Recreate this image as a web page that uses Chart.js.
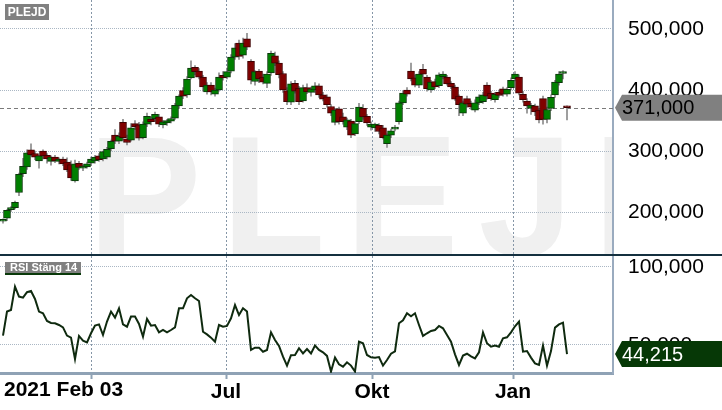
<!DOCTYPE html>
<html>
<head>
<meta charset="utf-8">
<script src="https://cdn.jsdelivr.net/npm/chart.js@4.4.1/dist/chart.umd.min.js"></script>
<style>
  html, body { margin: 0; padding: 0; background: #fff; }
  #wrap { position: relative; width: 722px; height: 410px; overflow: hidden; }
  #wrap canvas { position: absolute; left: 0; }
</style>
</head>
<body>
<div id="wrap">
  <canvas id="price" width="722" height="256" style="top:0"></canvas>
  <canvas id="rsi" width="722" height="154" style="top:256px"></canvas>
</div>
<script>
// daily candles, PLEJD, Feb 2021 - Feb 2022 (price)
const opens = [185,190,204,207,232,263,274,302,296,284, 300,293,283,290,283,287,282,278,251,280,
  272,274,280,284,292,287,290,304,326,316, 347,320,318,345,343,322,344,352,353,356,
  343,346,349,354,374,399,392,420,437,431, 421,397,408,393,400,424,421,431,454,477,
  457,484,447,414,431,421,411,428,456,444, 427,399,380,411,403,382,404,396,400,407,
  392,389,373,347,369,356,339,349,328,348, 370,357,339,338,342,338,312,326,336,348,
  379,400,431,420,408,434,421,400,414,407, 422,421,411,405,390,362,386,378,367,379,
  381,408,395,384,396,402,393,404,418,421, 393,382,370,374,367,386,352,370,392,412,
  427,374];
const highs = [189,204,209,218,264,288,302,312,300,293, 302,296,292,293,289,290,289,284,285,283,
  277,282,290,293,296,300,306,318,335,330, 352,326,345,350,347,348,362,356,364,360,
  350,352,356,378,392,404,422,448,440,435, 424,412,412,403,428,430,436,458,476,482,
  485,493,450,432,434,426,430,464,462,448, 430,404,414,416,406,408,410,405,412,410,
  396,392,376,370,372,362,354,352,348,378, 376,360,348,346,345,342,328,336,342,382,
  398,404,444,425,430,442,424,416,418,428, 430,424,414,408,392,382,390,382,384,392,
  396,412,398,396,400,405,404,420,430,425, 398,386,378,377,370,390,372,392,416,430,
  432,374];
const lows = [182,186,201,205,227,258,270,292,286,272, 287,280,277,281,279,276,266,252,249,270,
  268,272,276,280,283,284,287,300,312,312, 318,310,316,335,318,320,340,343,348,340,
  338,342,346,352,370,386,388,418,425,418, 398,393,392,390,398,416,418,428,450,450,
  452,466,410,408,412,410,404,424,440,420, 396,376,376,395,376,380,394,390,396,388,
  382,372,358,343,344,344,335,322,325,345, 352,342,334,332,328,320,306,322,333,344,
  376,390,415,405,404,422,398,396,402,404, 418,408,402,383,358,358,372,368,364,376,
  378,385,383,380,388,390,390,400,415,392, 380,362,360,358,346,344,346,366,388,408,
  418,351];
const closes = [188,203,207,216,262,275,297,294,290,292, 292,287,290,284,287,279,269,256,279,273,
  275,279,287,290,286,299,303,316,316,324, 322,314,338,340,321,344,357,348,360,344,
  348,350,353,375,390,390,418,436,430,421, 405,408,397,400,421,420,430,454,469,455,
  477,470,416,430,418,413,426,460,444,425, 400,381,410,398,381,404,397,402,407,392,
  385,376,362,367,348,348,351,326,345,372, 356,346,344,344,332,322,326,333,339,379,
  395,393,418,408,426,426,402,413,405,425, 426,410,405,385,376,379,377,372,379,389,
  392,390,386,393,391,393,401,416,426,395, 384,374,375,364,351,352,368,388,413,426,
  428,371];
// RSI (Stäng 14)
const rsi = [56.0,71.4,72.4,87.4,81.0,80.3,83.8,84.6,79.5,71.4,
  70.3,65.4,64.1,63.9,62.8,61.3,56.0,54.7,41.0,55.8,
  52.8,51.7,57.5,62.4,63.2,56.4,65.0,71.4,67.5,73.5,
  63.2,61.7,68.2,68.2,63.5,55.3,66.7,62.4,62.8,58.1,
  59.6,58.1,59.6,61.3,73.5,73.5,79.9,82.0,79.9,78.2,
  58.5,56.8,54.7,52.1,62.8,61.7,62.2,67.1,75.6,69.2,
  73.5,71.4,46.8,48.3,48.3,45.7,46.8,58.1,53.2,49.4,
  42.5,36.8,43.5,43.6,47.9,44.6,47.4,44.6,49.6,46.8,
  45.3,43.0,33.0,42.0,37.6,36.1,38.9,36.8,33.0,52.1,
  51.1,43.6,42.1,41.9,42.3,36.8,40.4,44.4,45.9,63.9,
  65.8,70.3,68.4,70.3,62.8,55.8,57.5,59.0,59.6,62.2,
  60.7,56.4,52.1,44.0,37.2,43.2,44.4,42.7,41.4,45.3,
  58.1,51.1,48.9,49.6,48.9,54.3,54.9,58.1,62.0,65.0,
  45.7,46.1,41.9,38.2,37.2,49.6,36.8,46.1,61.1,63.2,
  64.3,44.215];

const priceTicks = [200, 300, 400, 500];
const rsiTicks = [50, 100];
const monthTicks = [22, 55.75, 92.25, 127.5];   // trading-day index of month starts
const monthLabels = ['', 'Jul', 'Okt', 'Jan'];
const startLabel = '2021 Feb 03';

const FONT = '"Liberation Sans", Arial, sans-serif';
const fmt = v => Number(v).toFixed(3).replace('.', ',');

const idx = closes.map((_, i) => i);
const up = idx.map(i => closes[i] >= opens[i]);
const wicks = idx.map(i => ({ x: i, y: [lows[i], highs[i]] }));
const bodies = idx.map(i => ({ x: i, y: [Math.min(opens[i], closes[i]), Math.max(opens[i], closes[i])] }));
const rsiPts = idx.map(i => ({ x: i, y: rsi[i] }));

function tag(ctx, x, y, w, h, fill) {
  ctx.beginPath();
  ctx.moveTo(x, y);
  ctx.lineTo(x + 7, y - h / 2);
  ctx.lineTo(x + w, y - h / 2);
  ctx.lineTo(x + w, y + h / 2);
  ctx.lineTo(x + 7, y + h / 2);
  ctx.closePath();
  ctx.fillStyle = fill;
  ctx.fill();
}

const noPadY = s => { s.width = 109; s.paddingTop = 0; s.paddingBottom = 0; };

const xBase = {
  type: 'linear', min: -0.75, max: 152.5, offset: false,
  afterBuildTicks: s => { s.ticks = monthTicks.map(v => ({ value: v })); }
};

const pricePlugin = {
  id: 'pricePlugin',
  beforeDraw(chart) {
    const { ctx, chartArea: a } = chart;
    ctx.save();
    ctx.beginPath();
    ctx.rect(a.left, a.top, a.right - a.left, a.bottom - a.top);
    ctx.clip();
    ctx.fillStyle = '#f0f0f0';
    ctx.font = 'bold 170px ' + FONT;
    ctx.letterSpacing = '20px';
    ctx.textBaseline = 'alphabetic';
    ctx.fillText('PLEJD', 88, 255);
    ctx.restore();
  },
  beforeDatasetsDraw(chart) {
    const { ctx, chartArea: a, scales } = chart;
    const y = Math.round(scales.y.getPixelForValue(closes[closes.length - 1])) + 0.5;
    ctx.save();
    ctx.strokeStyle = '#7a7a7a';
    ctx.lineWidth = 1;
    ctx.setLineDash([4, 3]);
    ctx.beginPath();
    ctx.moveTo(a.left, y);
    ctx.lineTo(a.right, y);
    ctx.stroke();
    ctx.restore();
  },
  afterDraw(chart) {
    const { ctx, chartArea: a, scales } = chart;
    const last = closes[closes.length - 1];
    const y = scales.y.getPixelForValue(last);
    ctx.save();
    tag(ctx, a.right + 2, y, 107, 26, '#808080');
    ctx.fillStyle = '#000';
    ctx.font = '20px ' + FONT;
    ctx.textBaseline = 'middle';
    ctx.fillText(fmt(last), a.right + 9, y + 1);
    // title box
    ctx.fillStyle = '#808080';
    ctx.fillRect(5, 4, 44, 16);
    ctx.fillStyle = '#fff';
    ctx.font = 'bold 12px ' + FONT;
    ctx.textAlign = 'center';
    ctx.fillText('PLEJD', 27, 12.5);
    // panel separator
    ctx.strokeStyle = '#14303f';
    ctx.lineWidth = 2;
    ctx.beginPath();
    ctx.moveTo(0, 255);
    ctx.lineTo(722, 255);
    ctx.stroke();
    ctx.restore();
  }
};

new Chart(document.getElementById('price'), {
  type: 'bar',
  data: {
    datasets: [
      {
        data: bodies, order: 0, grouped: false, barThickness: 7, minBarLength: 2,
        backgroundColor: up.map(u => u ? '#008000' : '#800000'),
        borderColor: up.map(u => u ? '#0b360b' : '#3e0000'),
        borderWidth: 1, borderSkipped: false
      },
      { data: wicks, order: 1, grouped: false, barThickness: 1, backgroundColor: '#8c8c8c' }
    ]
  },
  options: {
    responsive: false, animation: false, events: [],
    layout: { padding: 0 },
    plugins: { legend: { display: false }, tooltip: { enabled: false } },
    scales: {
      x: Object.assign({}, xBase, {
        ticks: { display: false },
        grid: { color: '#8596a7', lineWidth: 1, drawTicks: false, offset: false },
        border: { display: false, dash: [2, 2] },
        afterFit: s => { s.height = 0; s.paddingLeft = 0; s.paddingRight = 0; }
      }),
      y: {
        position: 'right', min: 128, max: 547.5,
        afterBuildTicks: s => { s.ticks = priceTicks.map(v => ({ value: v })); },
        afterFit: noPadY,
        ticks: { color: '#000', padding: 15, font: { family: FONT, size: 21 }, callback: v => fmt(v) },
        grid: { color: '#aab7c4', lineWidth: 1, drawTicks: false },
        border: { display: true, color: '#9aabbf', width: 2, dash: [1, 1] }
      }
    }
  },
  plugins: [pricePlugin]
});

const rsiPlugin = {
  id: 'rsiPlugin',
  afterDraw(chart) {
    const { ctx, chartArea: a, scales } = chart;
    const last = rsi[rsi.length - 1];
    const y = scales.y.getPixelForValue(last);
    ctx.save();
    tag(ctx, a.right + 2, y, 107, 26, '#063806');
    ctx.fillStyle = '#fff';
    ctx.font = '20px ' + FONT;
    ctx.textBaseline = 'middle';
    ctx.fillText(fmt(last), a.right + 9, y + 1);
    // title box
    ctx.fillStyle = '#808080';
    ctx.fillRect(5, 6, 76, 12);
    ctx.fillStyle = '#0a3a0a';
    ctx.fillRect(5, 17, 76, 2);
    ctx.fillStyle = '#fff';
    ctx.font = 'bold 11px ' + FONT;
    ctx.textBaseline = 'middle';
    ctx.fillText('RSI Stäng 14', 10, 12);
    // first date label
    ctx.fillStyle = '#000';
    ctx.font = 'bold 21px ' + FONT;
    ctx.textBaseline = 'top';
    ctx.fillText(startLabel, scales.x.getPixelForValue(0) + 1, a.bottom + 7);
    ctx.restore();
  }
};

new Chart(document.getElementById('rsi'), {
  type: 'line',
  data: {
    datasets: [{
      data: rsiPts, borderColor: '#0f2a0f', borderWidth: 2, pointRadius: 0, tension: 0, fill: false
    }]
  },
  options: {
    responsive: false, animation: false, events: [],
    layout: { padding: 0 },
    plugins: { legend: { display: false }, tooltip: { enabled: false } },
    scales: {
      x: Object.assign({}, xBase, {
        ticks: {
          color: '#000', padding: 1, maxRotation: 0, autoSkip: false,
          font: { family: FONT, size: 21, weight: 'bold' },
          callback: (v, i) => monthLabels[i]
        },
        grid: { color: '#8596a7', lineWidth: 1, drawTicks: true, tickLength: 6, tickColor: '#8fa2b5', tickWidth: 2, tickBorderDash: [] },
        border: { display: true, color: '#8fa2b5', width: 3, dash: [2, 2] },
        afterFit: s => { s.height = 37; s.paddingLeft = 0; s.paddingRight = 0; }
      }),
      y: {
        position: 'right', min: 32.05, max: 107,
        afterBuildTicks: s => { s.ticks = rsiTicks.map(v => ({ value: v })); },
        afterFit: noPadY,
        ticks: { color: '#000', padding: 15, font: { family: FONT, size: 21 }, callback: v => fmt(v) },
        grid: { color: '#aab7c4', lineWidth: 1, drawTicks: false },
        border: { display: true, color: '#9aabbf', width: 2, dash: [1, 1] }
      }
    }
  },
  plugins: [rsiPlugin]
});
</script>
</body>
</html>
